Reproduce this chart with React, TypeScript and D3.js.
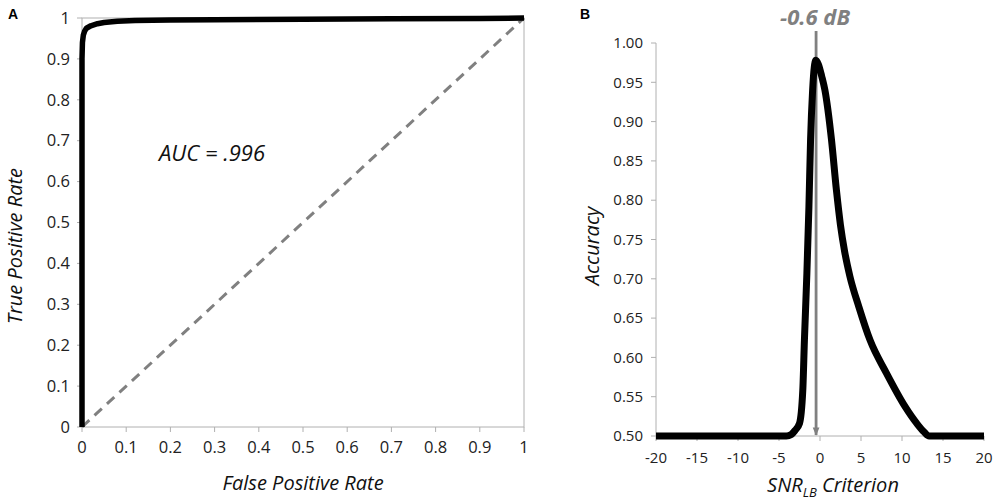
import React from "react";
import * as d3 from "d3";

// Panel A: ROC curve
const rocFpr = [0, 0, 0, 0.001, 0.003, 0.006, 0.01, 0.02, 0.035, 0.05, 0.08, 0.12, 0.2, 0.3, 0.5, 0.7, 0.9, 1];
const rocTpr = [0, 0.5, 0.9, 0.94, 0.958, 0.968, 0.975, 0.981, 0.986, 0.989, 0.992, 0.994, 0.995, 0.996, 0.997, 0.998, 0.999, 1];
const chanceX = [0, 1];
const chanceY = [0, 1];
const aTicks = [0, 0.1, 0.2, 0.3, 0.4, 0.5, 0.6, 0.7, 0.8, 0.9, 1];
const aucLabel = "AUC = .996";

// Panel B: accuracy vs SNR_LB criterion
const snrX = [-20, -15, -10, -5, -4.1, -3.5, -3.05, -2.5, -2.1, -1.9, -1.6, -1.35, -1.15, -0.9, -0.7, -0.5, -0.2, 0.2, 0.6, 1.4, 2.0, 2.5, 3.0, 3.65, 4.75, 6.1, 8.1, 10.4, 11.8, 12.7, 13.3, 15, 20];
const accY = [0.5, 0.5, 0.5, 0.5, 0.5, 0.502, 0.507, 0.516, 0.558, 0.622, 0.707, 0.792, 0.877, 0.94, 0.969, 0.978, 0.973, 0.958, 0.94, 0.877, 0.813, 0.768, 0.735, 0.703, 0.664, 0.622, 0.58, 0.537, 0.516, 0.505, 0.5, 0.5, 0.5];
const bXTicks = [-20, -15, -10, -5, 0, 5, 10, 15, 20];
const bYTicks = [0.5, 0.55, 0.6, 0.65, 0.7, 0.75, 0.8, 0.85, 0.9, 0.95, 1.0];
const optimum = -0.6;
const optimumLabel = "-0.6 dB";

const FONT = "'Open Sans', 'DejaVu Sans', sans-serif";
const AXIS = "#b0b0b0";
const TICKTXT = "#222";

export default function App() {
  // Panel A scales
  const ax = d3.scaleLinear().domain([0, 1]).range([82, 524]);
  const ay = d3.scaleLinear().domain([0, 1]).range([427, 18]);
  // Panel B scales
  const bx = d3.scaleLinear().domain([-20, 20]).range([656, 984]);
  const by = d3.scaleLinear().domain([0.5, 1.0]).range([436, 43]);

  const rocPts: [number, number][] = rocFpr.map((f, i) => [ax(f), ay(rocTpr[i])]);
  const rocPath = d3.line().curve(d3.curveLinear)(rocPts) || "";
  const chancePath = d3.line()(chanceX.map((x, i) => [ax(x), ay(chanceY[i])] as [number, number])) || "";

  const accPts: [number, number][] = snrX.map((x, i) => [bx(x), by(accY[i])]);
  const accPath = d3.line().curve(d3.curveMonotoneX)(accPts) || "";

  return (
    <svg
      width={1000}
      height={503}
      style={{ position: "absolute", left: 0, top: 0, background: "#fff" }}
      fontFamily={FONT}
    >
      <defs>
        <marker id="arr" viewBox="0 0 10 10" refX="9" refY="5" markerWidth="3" markerHeight="5" orient="auto" markerUnits="strokeWidth">
          <path d="M0,1 L10,5 L0,9 z" fill="#808080" />
        </marker>
      </defs>

      {/* ===== Panel A ===== */}
      <text x={8} y={19} fontFamily="Arial, 'Liberation Sans', sans-serif" fontWeight="bold" fontSize={14}>A</text>
      <rect x={ax(0)} y={ay(1)} width={ax(1) - ax(0)} height={ay(0) - ay(1)} fill="none" stroke={AXIS} strokeWidth={1} />
      {aTicks.map((t) => (
        <g key={"ay" + t}>
          <line x1={ax(0) - 5} x2={ax(0)} y1={ay(t)} y2={ay(t)} stroke={AXIS} />
          <text x={ax(0) - 12} y={ay(t)} dy="0.35em" textAnchor="end" fontSize={16.5} fill={TICKTXT}>{d3.format("")(t)}</text>
        </g>
      ))}
      {aTicks.map((t) => (
        <g key={"ax" + t}>
          <line x1={ax(t)} x2={ax(t)} y1={ay(0)} y2={ay(0) + 5} stroke={AXIS} />
          <text x={ax(t)} y={ay(0) + 26} textAnchor="middle" fontSize={16.5} fill={TICKTXT}>{d3.format("")(t)}</text>
        </g>
      ))}
      <path d={chancePath} fill="none" stroke="#808080" strokeWidth={3} strokeDasharray="10,7" />
      <path d={rocPath} fill="none" stroke="#000" strokeWidth={5.5} strokeLinejoin="round" strokeLinecap="butt" />
      <text x={159} y={161} fontSize={22} fontStyle="italic" fill="#111">{aucLabel}</text>
      <text x={(ax(0) + ax(1)) / 2} y={490} textAnchor="middle" fontSize={20} fontStyle="italic" fill="#111">False Positive Rate</text>
      <text transform={`translate(22,246) rotate(-90)`} textAnchor="middle" fontSize={20} fontStyle="italic" fill="#111">True Positive Rate</text>

      {/* ===== Panel B ===== */}
      <text x={580} y={19} fontFamily="Arial, 'Liberation Sans', sans-serif" fontWeight="bold" fontSize={14}>B</text>
      <line x1={bx(-20)} x2={bx(-20)} y1={by(1.0)} y2={by(0.5)} stroke={AXIS} />
      <line x1={bx(-20)} x2={bx(20)} y1={by(0.5)} y2={by(0.5)} stroke={AXIS} />
      {bYTicks.map((t) => (
        <g key={"by" + t}>
          <line x1={bx(-20) - 5} x2={bx(-20)} y1={by(t)} y2={by(t)} stroke={AXIS} />
          <text x={bx(-20) - 13} y={by(t)} dy="0.35em" textAnchor="end" fontSize={15} fill={TICKTXT}>{d3.format(".2f")(t)}</text>
        </g>
      ))}
      {bXTicks.map((t) => (
        <g key={"bx" + t}>
          <line x1={bx(t)} x2={bx(t)} y1={by(0.5)} y2={by(0.5) + 5} stroke={AXIS} />
          <text x={bx(t)} y={by(0.5) + 27} textAnchor="middle" fontSize={15} fill={TICKTXT}>{t}</text>
        </g>
      ))}
      <line x1={bx(optimum) + 1} x2={bx(optimum) + 1} y1={31} y2={by(0.5) - 1} stroke="#808080" strokeWidth={2.8} markerEnd="url(#arr)" />
      <path d={accPath} fill="none" stroke="#000" strokeWidth={7} strokeLinejoin="round" />
      <text x={bx(optimum)} y={25} textAnchor="middle" fontSize={22} fontWeight="bold" fontStyle="italic" fill="#808080">{optimumLabel}</text>
      <text transform={`translate(599,246) rotate(-90)`} textAnchor="middle" fontSize={20} fontStyle="italic" fill="#111">Accuracy</text>
      <text x={833} y={492} textAnchor="middle" fontSize={20} fontStyle="italic" fill="#111">
        SNR<tspan fontSize={13} dy={5}>LB</tspan><tspan dy={-5}> Criterion</tspan>
      </text>
    </svg>
  );
}
